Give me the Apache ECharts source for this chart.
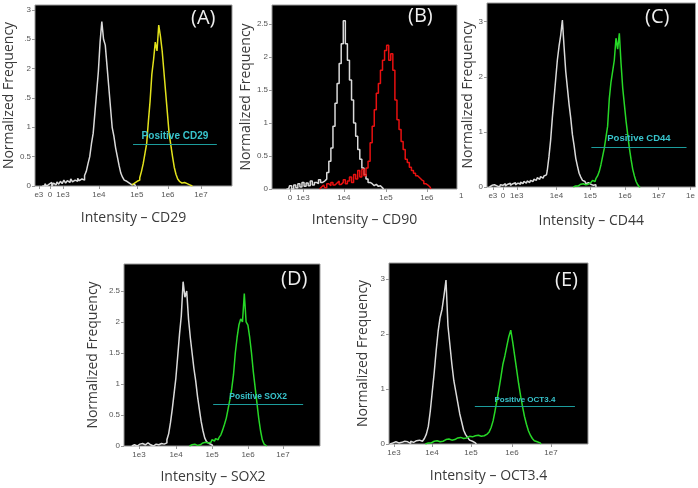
<!DOCTYPE html>
<html><head><meta charset="utf-8">
<script src="https://cdn.jsdelivr.net/npm/echarts@6/dist/echarts.min.js"></script>
<style>html,body{margin:0;padding:0;background:#fff}#c{width:698px;height:488px}</style>
</head><body><div id="c"></div>
<script>
// histogram bin width (display decades)
const binW = 0.05;

// Panel A (CD29)
const aCtrlStart = 2.40;
const aCtrl = [0,0,0.04,0,0.03,0.06,0,0.05,0.02,0.07,0.03,0.08,0.04,0.1,0.05,0.09,0.06,0.12,0.07,0.1,0.08,0.13,0.09,0.12,0.1,0.18,0.25,0.38,0.5,0.72,0.9,1.25,1.6,1.95,2.45,2.8,2.5,2.4,2.05,1.7,1.35,1.0,0.85,0.65,0.5,0.35,0.22,0.15,0.1,0.08,0.05,0.06,0.02,0.03,0];
const aPosStart = 5.00;
const aPos = [0.02,0.05,0.03,0.08,0.1,0.14,0.25,0.38,0.55,0.72,1.1,1.45,1.9,2.15,2.45,2.3,2.74,2.55,2.3,1.95,1.6,1.25,0.9,0.7,0.5,0.32,0.2,0.12,0.08,0.05,0.06,0.03,0.04,0.02,0.03,0];

// Panel B (CD90)
const bCtrlStart = 2.60;
const bCtrl = [0,0,0.05,0,0.06,0.02,0.08,0.03,0.1,0.04,0.09,0.05,0.12,0.06,0.1,0.08,0.14,0.1,0.12,0.15,0.25,0.42,0.62,0.95,1.3,1.6,1.9,2.2,2.55,2.2,1.95,1.65,1.35,1.0,0.8,0.6,0.45,0.32,0.22,0.15,0.1,0.08,0.05,0.07,0.04,0.05,0.02,0];
const bPosStart = 3.40;
const bPos = [0,0.03,0.06,0.02,0.08,0.05,0.1,0.06,0.09,0.12,0.07,0.1,0.14,0.08,0.12,0.18,0.1,0.22,0.15,0.28,0.18,0.3,0.2,0.32,0.42,0.7,0.95,1.2,1.45,1.6,1.8,1.95,2.1,2.18,1.95,2.05,1.8,1.35,1.05,0.9,0.72,0.6,0.45,0.4,0.33,0.28,0.24,0.2,0.17,0.14,0.12,0.08,0.06,0.03,0];

// Panel C (CD44)
const cCtrlStart = 2.00;
const cCtrl = [0,0.03,0,0.04,0.02,0.05,0,0.04,0.03,0.06,0.02,0.05,0.07,0.03,0.06,0.08,0.04,0.07,0.05,0.09,0.06,0.1,0.07,0.11,0.08,0.12,0.1,0.14,0.12,0.17,0.14,0.19,0.16,0.2,0.22,0.3,0.55,0.85,1.25,1.6,1.95,2.3,2.55,2.75,3.03,2.55,2.1,1.8,1.5,1.25,0.95,0.75,0.52,0.38,0.25,0.18,0.12,0.1,0.06,0.08,0.05,0.06,0.03,0.04,0];
const cPosStart = 4.50;
const cPos = [0,0.02,0.04,0.02,0.05,0.03,0.06,0.04,0.07,0.05,0.08,0.1,0.12,0.1,0.15,0.2,0.28,0.4,0.55,0.7,0.9,1.1,1.6,1.9,2.1,2.3,2.7,2.5,2.79,2.25,1.8,1.5,1.2,0.95,0.7,0.5,0.32,0.2,0.1,0.04,0];

// Panel D (SOX2)
const dCtrlStart = 2.80;
const dCtrl = [0,0.02,0.05,0,0.03,0,0.04,0.02,0,0.05,0.02,0.04,0,0.03,0.06,0.02,0.04,0.07,0.03,0.05,0.1,0.2,0.38,0.6,0.85,1.1,1.45,1.8,2.1,2.65,2.4,2.5,2.05,1.75,1.5,1.25,1.05,0.8,0.6,0.4,0.25,0.13,0.07,0.04,0.02,0];
const dPosStart = 4.40;
const dPos = [0,0.02,0,0.03,0.01,0.04,0.02,0.05,0.03,0.06,0.05,0.08,0.06,0.1,0.08,0.12,0.1,0.14,0.18,0.26,0.35,0.45,0.6,0.75,0.92,1.15,1.5,1.75,1.95,2.05,2.0,2.46,2.0,1.95,1.75,1.5,1.2,0.95,0.7,0.45,0.25,0.1,0.03,0];

// Panel E (OCT3.4)
const eCtrlStart = 2.90;
const eCtrl = [0,0.02,0,0.04,0.02,0,0.03,0.05,0.02,0.04,0.01,0.05,0.03,0.06,0.04,0.07,0.05,0.08,0.1,0.18,0.32,0.6,0.95,1.3,1.7,2.05,2.3,2.45,2.7,2.98,2.15,1.8,1.45,1.15,0.95,0.75,0.55,0.4,0.25,0.17,0.12,0.07,0.05,0.02,0];
const ePosStart = 3.80;
const ePos = [0,0.02,0.04,0.02,0.05,0.03,0.06,0.04,0.07,0.05,0.08,0.06,0.09,0.07,0.1,0.08,0.11,0.09,0.12,0.1,0.13,0.11,0.14,0.12,0.13,0.15,0.12,0.16,0.14,0.17,0.15,0.18,0.2,0.22,0.3,0.42,0.6,0.8,1.0,1.22,1.45,1.6,1.78,1.95,2.07,1.85,1.6,1.35,1.1,0.88,0.68,0.5,0.36,0.24,0.16,0.1,0.06,0.04,0.02,0];

// Axis tick positions (display decades) and labels
const aXTicks = [2.30, 2.62, 3.0, 4.04, 5.14, 6.04, 7.0];
const aXLabels = ['e3','0','1e3','1e4','1e5','1e6','1e7'];
const bXTicks = [2.685, 3.0, 3.99, 5.01, 6.0];
const bXLabels = ['0','1e3','1e4','1e5','1e6'];
const cXTicks = [2.10, 2.40, 2.815, 4.0, 5.007, 6.044, 7.05, 8.0];
const cXLabels = ['e3','0','1e3','1e4','1e5','1e6','1e7','1e'];
const dXTicks = [3.0, 4.03, 5.03, 6.03, 7.0];
const dXLabels = ['1e3','1e4','1e5','1e6','1e7'];
const eXTicks = [3.0, 3.968, 4.96, 6.006, 7.0];
const eXLabels = ['1e3','1e4','1e5','1e6','1e7'];

const aYTicks = [0,0.5,1,1.5,2,2.5,3];
const aYLabels = ['0','0.5','1','.5','2','.5','3'];
const bYTicks = [0,0.5,1,1.5,2,2.5];
const bYLabels = ['0','0.5','1','1.5','2','2.5'];
const cYTicks = [0,1,2,3];
const cYLabels = ['0','1','2','3'];
const dYTicks = [0,0.5,1,1.5,2,2.5];
const dYLabels = ['0','0.5','1','1.5','2','2.5'];
const eYTicks = [0,1,2,3];
const eYLabels = ['0','1','2','3'];

// Gates: [x1, x2, y]
const aGate = [5.03, 7.46, 0.715];
const bGate = [4.62, 6.73, 0.656];
const cGate = [5.04, 7.88, 0.73];
const dGate = [5.06, 7.56, 0.68];
const eGate = [5.06, 7.61, 0.68];

const markers = ['CD29','CD90','CD44','SOX2','OCT3.4'];
const panelTags = ['(A)','(B)','(C)','(D)','(E)'];
const posColors = ['#e2e21c','#e81010','#27d827','#27d827','#27d827'];

const panels = [
  {grid:{left:35,top:5,width:197,height:181}, xr:[2.188,7.899], ymax:3.083, xt:aXTicks, xl:aXLabels, yt:aYTicks, yl:aYLabels, ctrl:[aCtrlStart,aCtrl], pos:[aPosStart,aPos], gate:aGate, gateFs:10, yGap:13, xGap:25, xPad:[0,0,0,0], tag:[205,20]},
  {grid:{left:272,top:5,width:185,height:184}, xr:[2.249,6.729], ymax:2.788, xt:bXTicks, xl:bXLabels, yt:bYTicks, yl:bYLabels, ctrl:[bCtrlStart,bCtrl], pos:[bPosStart,bPos], gate:bGate, gateFs:9, yGap:16, xGap:24, xPad:[0,0,0,0], tag:[422,18]},
  {grid:{left:487,top:3,width:210,height:184}, xr:[1.926,8.148], ymax:3.339, xt:cXTicks, xl:cXLabels, yt:cYTicks, yl:cYLabels, ctrl:[cCtrlStart,cCtrl], pos:[cPosStart,cPos], gate:cGate, gateFs:9.5, yGap:12, xGap:27, xPad:[0,0,0,0], tag:[659,19]},
  {grid:{left:124,top:264,width:196,height:182}, xr:[2.583,8.028], ymax:2.935, xt:dXTicks, xl:dXLabels, yt:dYTicks, yl:dYLabels, ctrl:[dCtrlStart,dCtrl], pos:[dPosStart,dPos], gate:dGate, gateFs:8.5, yGap:24, xGap:24, xPad:[0,18,0,0], tag:[295,281]},
  {grid:{left:389,top:263,width:199,height:181}, xr:[2.873,7.943], ymax:3.29, xt:eXTicks, xl:eXLabels, yt:eYTicks, yl:eYLabels, ctrl:[eCtrlStart,eCtrl], pos:[ePosStart,ePos], gate:eGate, gateFs:8, yGap:19, xGap:25, xPad:[0,0,0,0], tag:[569,282]}
];

function hist(start, heights){ return heights.map((h,i)=>[+(start+i*binW).toFixed(3), h]); }
function lookup(ticks, labels){ return function(v){ let bi=0, bd=1e9; ticks.forEach((t,i)=>{const d=Math.abs(t-v); if(d<bd){bd=d;bi=i;}}); return labels[bi]; }; }

const grids=[], xAxes=[], yAxes=[], series=[], graphics=[];
const nameFont = {fontFamily:'Open Sans', fontSize:14, color:'#3a3a3a'};
panels.forEach((p,i)=>{
  grids.push(Object.assign({show:true, backgroundColor:'#000', borderColor:'#9a9a9a', borderWidth:1}, p.grid));
  xAxes.push({type:'value', gridIndex:i, min:p.xr[0], max:p.xr[1],
    axisLine:{show:false}, splitLine:{show:false},
    axisTick:{show:true, customValues:p.xt, length:3, lineStyle:{color:'#999'}},
    axisLabel:{customValues:p.xt, formatter:lookup(p.xt,p.xl), fontSize:8, color:'#555', margin:5, fontFamily:'Liberation Sans'},
    name:'Intensity – '+markers[i], nameLocation:'middle', nameGap:p.xGap, nameTextStyle:Object.assign({verticalAlign:'top', padding:p.xPad},nameFont)});
  yAxes.push({type:'value', gridIndex:i, min:0, max:p.ymax,
    axisLine:{show:false}, splitLine:{show:false},
    axisTick:{show:true, customValues:p.yt, length:3, lineStyle:{color:'#999'}},
    axisLabel:{customValues:p.yt, formatter:lookup(p.yt,p.yl), fontSize:8, color:'#555', margin:4, fontFamily:'Liberation Sans'},
    name:'Normalized Frequency', nameLocation:'middle', nameGap:p.yGap, nameTextStyle:Object.assign({verticalAlign:'bottom'},nameFont)});
  series.push({type:'line', name:'Control '+markers[i], xAxisIndex:i, yAxisIndex:i, data:hist(p.ctrl[0],p.ctrl[1]),
    step:'middle', showSymbol:false, animation:false, lineStyle:{color:'#dadada', width:1.5}, z:2});
  series.push({type:'line', name:markers[i], xAxisIndex:i, yAxisIndex:i, data:hist(p.pos[0],p.pos[1]),
    step:'middle', showSymbol:false, animation:false, lineStyle:{color:posColors[i], width:1.5}, z:3,
    markLine:{silent:true, symbol:'none', animation:false,
      lineStyle:{color:'#1c9c9c', width:1, type:'solid'},
      label:{show:true, position:'insideMiddleTop', formatter:'{b}', color:'#38c4cc', fontSize:p.gateFs, fontWeight:'bold', fontFamily:'Liberation Sans', distance:3},
      data:[[{name:'Positive '+markers[i], coord:[p.gate[0],p.gate[2]]},{coord:[p.gate[1],p.gate[2]]}]]}});
  graphics.push({type:'text', left:p.tag[0]-14, top:p.tag[1]-12, z:100,
    style:{text:panelTags[i], fill:'#eeeeee', font:'20px Open Sans'}});
});
// partially visible tick label to the right of panel B
graphics.push({type:'text', left:459, top:192, style:{text:'1', fill:'#555', font:'8px Liberation Sans'}});

const chart = echarts.init(document.getElementById('c'), null, {renderer:'canvas'});
chart.setOption({animation:false, backgroundColor:'#fff', grid:grids, xAxis:xAxes, yAxis:yAxes, series:series, graphic:graphics});
</script></body></html>
